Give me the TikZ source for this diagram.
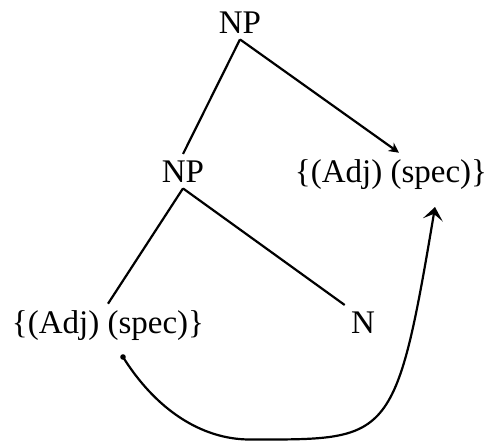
\documentclass[tikz,border=0pt]{standalone}
\usepackage{fontspec}
\setmainfont{Liberation Serif}
\usetikzlibrary{arrows.meta}

\begin{document}
\begin{tikzpicture}[x=0.5pt,y=0.5pt,cat/.style={anchor=base,inner sep=3pt,font=\fontsize{16.5}{20}\selectfont},branch/.style={line width=1.1pt},attach/.style={branch,-{Stealth[length=5pt,width=5pt,inset=1.5pt]}},move/.style={-{Stealth[length=6.5pt,width=10pt,inset=3pt]},line width=1.1pt}]
\useasboundingbox (0,0) rectangle (492,441);
\node[cat] (np1) at (240,408) {NP};
\node[cat] (np2) at (183,259) {NP};
\node[cat] (specR) at (391,259) {\{(Adj) (spec)\}};
\node[cat] (specL) at (108,108) {\{(Adj) (spec)\}};
\node[cat] (nn) at (363,108) {N};
\draw[branch] (np1.south) -- (np2.north);
\draw[attach] (np1.south) -- ([xshift=4pt]specR.north);
\draw[branch] (np2.south) -- (specL.north);
\draw[branch] (np2.south) -- (nn.north west);
% trace and landing site of the moved element
\coordinate (trace) at (123,84);
\coordinate (low) at (250,1.5);
\coordinate (landing) at (435,234);
\fill (trace) circle (1.4pt);
\draw[move] (trace) .. controls +(-58:30pt) and +(180:25pt) .. (low) .. controls +(0:70pt) and +(-99.5:120pt) .. (landing);
\end{tikzpicture}
\end{document}
